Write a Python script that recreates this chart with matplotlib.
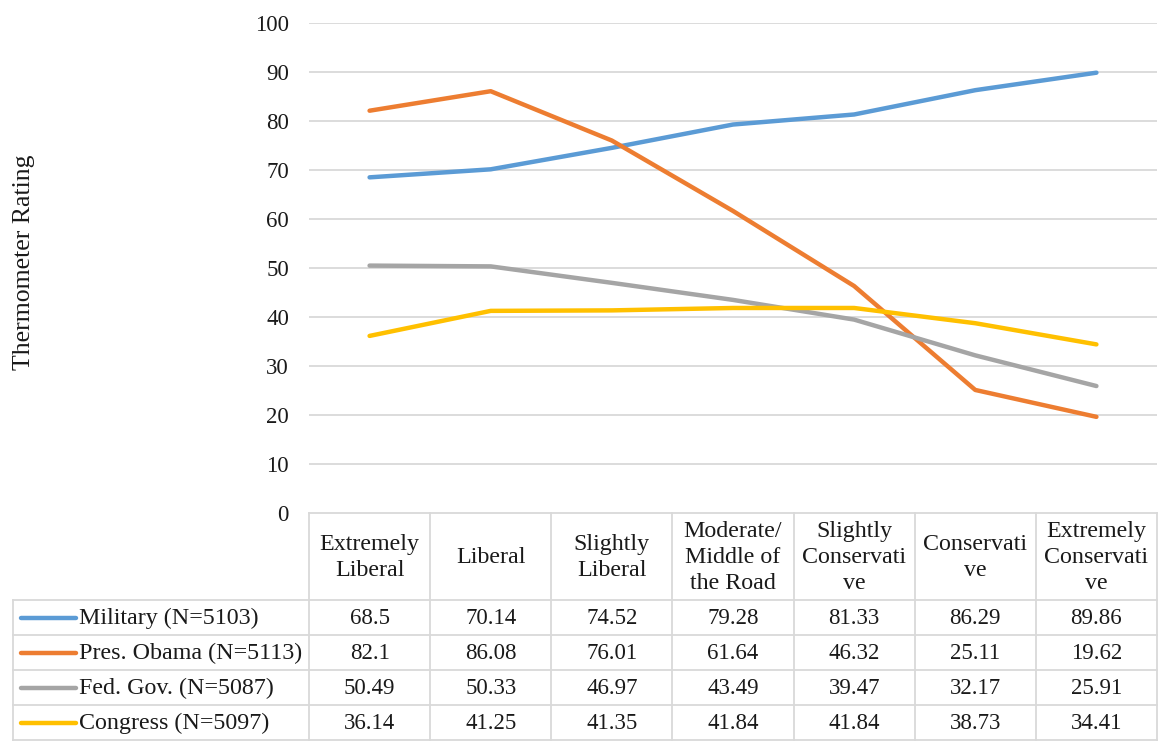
import matplotlib
matplotlib.use("Agg")
import matplotlib.pyplot as plt

categories = ["Extremely\nLiberal", "Liberal", "Slightly\nLiberal",
              "Moderate/\nMiddle of\nthe Road", "Slightly\nConservati\nve",
              "Conservati\nve", "Extremely\nConservati\nve"]
series_names = ["Military (N=5103)", "Pres. Obama (N=5113)",
                "Fed. Gov. (N=5087)", "Congress (N=5097)"]
military = [68.5, 70.14, 74.52, 79.28, 81.33, 86.29, 89.86]
obama = [82.1, 86.08, 76.01, 61.64, 46.32, 25.11, 19.62]
fedgov = [50.49, 50.33, 46.97, 43.49, 39.47, 32.17, 25.91]
congress = [36.14, 41.25, 41.35, 41.84, 41.84, 38.73, 34.41]
yticks = [0, 10, 20, 30, 40, 50, 60, 70, 80, 90, 100]

series = [military, obama, fedgov, congress]
colors = ["#5B9BD5", "#ED7D31", "#A5A5A5", "#FFC000"]

W, H = 1159, 741
plt.rcParams['font.family'] = ['Liberation Serif', 'DejaVu Serif']
FS = 16.5
FS_TXT = 17.3
FS_YL = 18.5
TXT = "#1a1a1a"
fig = plt.figure(figsize=(W / 100, H / 100), dpi=100)

# layout in pixels
x0, x1 = 309, 1157
ytop, ybot = 23, 513
hdr_bot = 600
row_h = 35
leg_left = 13
grid_c = "#D9D9D9"

ax = fig.add_axes([x0 / W, (H - ybot) / H, (x1 - x0) / W, (ybot - ytop) / H])
n = len(categories)
xs = list(range(n))
for vals, c in zip(series, colors):
    ax.plot(xs, vals, color=c, lw=3.2, solid_capstyle='round', solid_joinstyle='round', zorder=3)
ax.set_xlim(-0.5, n - 0.5)
ax.set_ylim(0, 100)
ax.set_yticks(yticks)
for y in yticks[1:]:
    ax.axhline(y, color=grid_c, lw=1.3, zorder=1)
for s in ax.spines.values():
    s.set_visible(False)
ax.set_xticks([])
ax.tick_params(axis='y', length=0, labelsize=FS, pad=14.4)
for t in ax.get_yticklabels():
    t.set_color(TXT)
ax.set_ylabel("Thermometer Rating", fontsize=FS_YL, color=TXT, labelpad=0)
ax.yaxis.set_label_coords(-(x0 - 35) / (x1 - x0), (ybot - 262) / (ybot - ytop))

# overlay in pixel coordinates for data table
ov = fig.add_axes([0, 0, 1, 1], zorder=5)
ov.set_xlim(0, W)
ov.set_ylim(H, 0)
ov.axis('off')
ov.patch.set_alpha(0)

cw = (x1 - x0) / n
def colx(i):
    return x0 + (i + 0.5) * cw

# header row
for i, cat in enumerate(categories):
    ov.text(colx(i), (ybot + hdr_bot) / 2 + 1, cat, ha='center', va='center',
            fontsize=FS_TXT, color=TXT, linespacing=1.34)
# vertical lines
for i in range(n + 1):
    ov.plot([x0 + i * cw] * 2, [ybot, H], color=grid_c, lw=1.3)
ov.plot([leg_left, leg_left], [hdr_bot, H], color=grid_c, lw=1.3)
# horizontal lines
ov.plot([x0, x1], [ybot, ybot], color=grid_c, lw=1.3)
for r in range(len(series) + 1):
    yy = hdr_bot + r * row_h
    ov.plot([leg_left, x1], [yy, yy], color=grid_c, lw=1.3)

for r, (name, vals, c) in enumerate(zip(series_names, series, colors)):
    yc = hdr_bot + (r + 0.5) * row_h
    ov.plot([21, 76], [yc, yc], color=c, lw=3.2, solid_capstyle='round')
    ov.text(79, yc + 1, name, ha='left', va='center', fontsize=FS_TXT, color=TXT)
    for i, v in enumerate(vals):
        ov.text(colx(i), yc + 1, f"{v:g}", ha='center', va='center', fontsize=FS, color=TXT)

fig.savefig("out.png", dpi=100)
